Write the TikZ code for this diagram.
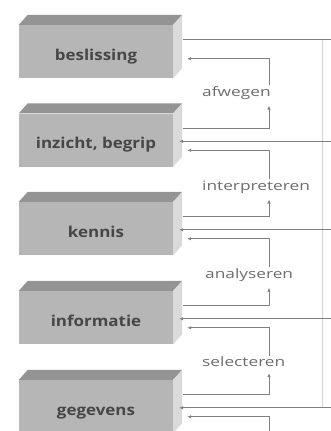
\documentclass[tikz,border=0pt]{standalone}
\usepackage{fontspec}
\setmainfont{Open Sans}
\newfontfamily\blokfont[FakeStretch=1.13]{Open Sans}
\newfontfamily\procesfont[FakeStretch=1.33]{Open Sans}
\usepackage{tikz}
\usetikzlibrary{arrows.meta}
\definecolor{voorkant}{RGB}{182,182,182}
\definecolor{bovenkant}{RGB}{148,148,148}
\definecolor{zijkant}{RGB}{218,218,218}
\definecolor{tekstgrijs}{RGB}{70,70,70}
\definecolor{lijngrijs}{RGB}{128,128,128}

\begin{document}
\begin{tikzpicture}[x=1pt, y=-1pt,
  blok/.style={fill=voorkant, minimum width=154pt, minimum height=53pt, inner sep=0pt,
    text height=20pt, text depth=3pt,
    font=\blokfont\bfseries\fontsize{15}{15}\selectfont, text=tekstgrijs},
  proces/.style={fill=white, anchor=west, inner sep=1pt,
    font=\procesfont\fontsize{13}{13}\selectfont, text=lijngrijs!85!black},
  lijn/.style={draw=lijngrijs, line width=0.7pt},
  pijl/.style={lijn, -{Latex[length=4pt,width=3.5pt]}}]
  \useasboundingbox (0,0) rectangle (331,431);
  \clip (0,0) rectangle (331,431);

  % de vijf niveaus
  \node[blok] (b1) at (96,51.5) {beslissing};
  \node[blok] (b2) at (96,140) {inzicht, begrip};
  \node[blok] (b3) at (96,228.5) {kennis};
  \node[blok] (b4) at (96,317.5) {informatie};
  \node[blok] (b5) at (96,406.5) {gegevens};

  % boven- en zijvlak, aansluitpunten
  \foreach \b in {b1,b2,b3,b4,b5} {
    \fill[bovenkant] (\b.north west) -- ++(9,-10) -- ([shift={(9,-10)}]\b.north east) -- (\b.north east) -- cycle;
    \fill[zijkant] (\b.north east) -- ++(9,-10) -- ([shift={(9,-10)}]\b.south east) -- (\b.south east) -- cycle;
    \coordinate (\b uit) at ([shift={(10,15)}]\b.north east);
    \coordinate (\b rin) at ([shift={(6,28)}]\b.north east);
    \coordinate (\b in) at ([shift={(14,37)}]\b.north east);
  }
  \coordinate (v) at (269,0);
  \coordinate (kant) at (322,0);
  \coordinate (rand) at (340,0);
  \coordinate (onder) at (269,445);

  % processen
  \node[proces] (afw) at (201,93) {afwegen};
  \node[proces] (int) at (201,187) {interpreteren};
  \node[proces] (ana) at (204,275) {analyseren};
  \node[proces] (sel) at (201,362) {selecteren};

  \draw[pijl, shorten >=5pt] (b2uit) -| (afw.south -| v);
  \draw[pijl] (afw.north -| v) |- ([yshift=3pt]b1in);
  \draw[pijl, shorten >=5pt] (b3uit) -| (int.south -| v);
  \draw[pijl] (int.north -| v) |- (b2in);
  \draw[pijl, shorten >=5pt] (b4uit) -| (ana.south -| v);
  \draw[pijl] (ana.north -| v) |- (b3in);
  \draw[pijl, shorten >=5pt] (b5uit) -| (sel.south -| v);
  \draw[pijl] (sel.north -| v) |- (b4in);
  \draw[pijl] (onder) |- (b5in);

  % terugkoppeling langs de rechterkant
  \draw[draw=lijngrijs!35, line width=0.6pt] (b1uit -| kant) -- (b5rin -| kant);
  \draw[lijn] (b1uit) -- (b1uit -| rand);
  \draw[pijl] (b2rin -| rand) -- (b2rin);
  \draw[pijl] (b3rin -| rand) -- (b3rin);
  \draw[pijl] (b4rin -| rand) -- (b4rin);
  \draw[pijl] (b5rin -| rand) -- (b5rin);
\end{tikzpicture}
\end{document}
